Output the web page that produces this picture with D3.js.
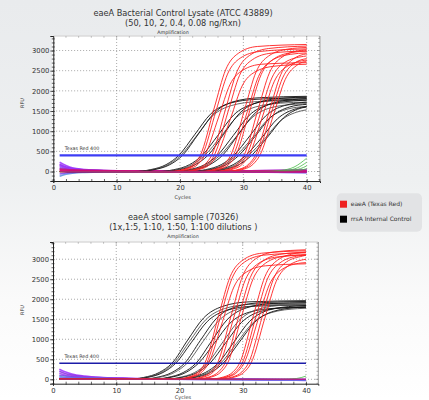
<!DOCTYPE html>
<html>
<head>
<meta charset="utf-8">
<script src="https://cdn.jsdelivr.net/npm/d3@7"></script>
<style>
  body { margin: 0; }
  svg text { font-family: "DejaVu Sans", sans-serif; fill: #333; }
</style>
</head>
<body>
<div id="chart"></div>
<script>
// ---- data: [cycle, RFU] points ----

// top panel: bacterial control lysate
const topRed = [
  [[1,0],[18.2,0],[20.7,60],[22.2,190],[23.2,400],[25.4,1575],[27.2,2520],[29.2,2930],[32.2,3100],[40,3150]],
  [[1,0],[18.5,0],[21,60],[22.5,190],[23.5,400],[25.7,1510],[27.5,2415],[29.5,2810],[32.5,2975],[40,3040]],
  [[1,0],[18.9,0],[21.4,60],[22.9,190],[23.9,400],[26.1,1350],[27.9,2160],[29.9,2510],[32.9,2660],[40,2700]],
  [[1,0],[20,0],[22.5,60],[24,190],[25,400],[27.2,1550],[29,2480],[31,2880],[34,3050],[40,3110]],
  [[1,0],[20.4,0],[22.9,60],[24.4,190],[25.4,400],[27.6,1490],[29.4,2385],[31.4,2770],[34.4,2935],[40,2990]],
  [[1,0],[20.8,0],[23.3,60],[24.8,190],[25.8,400],[28,1325],[29.8,2120],[31.8,2465],[34.8,2610],[40,2660]],
  [[1,0],[23,0],[25.5,60],[27,190],[28,400],[30.2,1540],[32,2465],[34,2865],[37,3035],[40,3075]],
  [[1,0],[23.4,0],[25.9,60],[27.4,190],[28.4,400],[30.6,1475],[32.4,2360],[34.4,2745],[37.4,2905],[40,2940]],
  [[1,0],[23.8,0],[26.3,60],[27.8,190],[28.8,400],[31,1500],[32.8,2400],[34.8,2790],[37.8,2955],[40,2985]],
  [[1,0],[25.1,0],[27.6,60],[29.1,190],[30.1,400],[32.3,1525],[34.1,2440],[36.1,2835],[39.1,3005],[40,3020]],
  [[1,0],[25.5,0],[28,60],[29.5,190],[30.5,400],[32.7,1450],[34.5,2320],[36.5,2700],[39.5,2855],[40,2865]],
  [[1,0],[25.9,0],[28.4,60],[29.9,190],[30.9,400],[33.1,1400],[34.9,2240],[36.9,2605],[40,2765]],
  [[1,0],[26.9,0],[29.4,60],[30.9,190],[31.9,400],[34.1,1500],[35.9,2400],[37.9,2790],[40,2920]],
  [[1,0],[27.2,0],[29.7,60],[31.2,190],[32.2,400],[34.4,1450],[36.2,2320],[38.2,2700],[40,2800]],
  [[1,0],[27.6,0],[30.1,60],[31.6,190],[32.6,400],[34.8,1425],[36.6,2280],[38.6,2650],[40,2740]]
];
const topBlack = [
  [[1,0],[12.8,0],[15.3,45],[17.8,170],[19.8,400],[22.3,910],[24.8,1420],[27.8,1690],[32,1790],[40,1830]],
  [[1,0],[13.1,0],[15.6,45],[18.1,170],[20.1,400],[22.6,880],[25.1,1375],[28.1,1635],[32.3,1735],[40,1770]],
  [[1,0],[13.4,0],[15.9,45],[18.4,170],[20.4,400],[22.9,930],[25.4,1450],[28.4,1730],[32.6,1830],[40,1865]],
  [[1,0],[16.5,0],[19,45],[21.5,170],[23.5,400],[26,900],[28.5,1405],[31.5,1675],[35.5,1775],[40,1800]],
  [[1,0],[16.9,0],[19.4,45],[21.9,170],[23.9,400],[26.4,860],[28.9,1340],[31.9,1600],[35.9,1695],[40,1720]],
  [[1,0],[17.4,0],[19.9,45],[22.4,170],[24.4,400],[26.9,925],[29.4,1445],[32.4,1720],[36.4,1820],[40,1845]],
  [[1,0],[18.9,0],[21.4,45],[23.9,170],[25.9,400],[28.4,890],[30.9,1390],[33.9,1655],[37.9,1750],[40,1768]],
  [[1,0],[19.3,0],[21.8,45],[24.3,170],[26.3,400],[28.8,850],[31.3,1325],[34.3,1580],[38.3,1670],[40,1685]],
  [[1,0],[19.7,0],[22.2,45],[24.7,170],[26.7,400],[29.2,915],[31.7,1425],[34.7,1700],[38.7,1795],[40,1808]],
  [[1,0],[21.5,0],[24,45],[26.5,170],[28.5,400],[31,880],[33.5,1375],[36.5,1635],[40,1720]],
  [[1,0],[21.9,0],[24.4,45],[26.9,170],[28.9,400],[31.4,830],[33.9,1295],[36.9,1545],[40,1615]],
  [[1,0],[22.3,0],[24.8,45],[27.3,170],[29.3,400],[31.8,860],[34.3,1340],[37.3,1600],[40,1665]],
  [[1,0],[23.4,0],[25.9,45],[28.4,170],[30.4,400],[32.9,840],[35.4,1310],[38.4,1560],[40,1610]],
  [[1,0],[23.8,0],[26.3,45],[28.8,170],[30.8,400],[33.3,800],[35.8,1250],[38.8,1490],[40,1530]],
  [[1,0],[24.3,0],[26.8,45],[29.3,170],[31.3,400],[33.8,850],[36.3,1325],[39.3,1580],[40,1600]]
];
const topGreen = [
  [[1,0],[33,0],[36,30],[38,110],[40,330]],
  [[1,0],[34,0],[37,30],[38.5,90],[40,230]],
  [[1,0],[35,0],[37.5,25],[39,70],[40,140]],
  [[1,0],[36,0],[38.5,20],[40,70]]
];
const topNoise = [
  [[1,230],[2,150],[3,90],[5,50],[8,25],[15,10],[25,0],[35,-10],[40,10]],
  [[1,180],[2,110],[3,70],[5,40],[8,20],[15,5],[25,-5],[35,0],[40,20]],
  [[1,130],[2,80],[4,40],[8,15],[15,5],[30,0],[40,-10]],
  [[1,90],[2,60],[4,30],[8,10],[20,0],[40,0]],
  [[1,-120],[2,-70],[3,-40],[5,-20],[8,-10],[20,0],[40,-20]],
  [[1,-60],[2,-35],[4,-15],[8,-5],[20,0],[40,-30]],
  [[1,50],[3,30],[6,15],[15,5],[30,0],[40,30]],
  [[1,160],[2,100],[4,55],[7,30],[12,15],[25,5],[40,40]],
  [[1,60],[3,40],[10,20],[25,10],[40,30]],
  [[1,20],[5,10],[20,-5],[40,-10]]
];

// bottom panel: stool sample dilutions
const botRed = [
  [[1,0],[19,0],[21.5,60],[23,190],[24,400],[26.2,1600],[28,2560],[30,2975],[33,3150],[40,3210]],
  [[1,0],[19.3,0],[21.8,60],[23.3,190],[24.3,400],[26.5,1575],[28.3,2520],[30.3,2930],[33.3,3100],[40,3160]],
  [[1,0],[19.6,0],[22.1,60],[23.6,190],[24.6,400],[26.8,1440],[28.6,2305],[30.6,2680],[33.6,2835],[40,2885]],
  [[1,0],[21,0],[23.5,60],[25,190],[26,400],[28.2,1615],[30,2585],[32,3005],[35,3180],[40,3235]],
  [[1,0],[21.4,0],[23.9,60],[25.4,190],[26.4,400],[28.6,1550],[30.4,2480],[32.4,2885],[35.4,3055],[40,3105]],
  [[1,0],[22.2,0],[24.7,60],[26.2,190],[27.2,400],[29.4,1590],[31.2,2545],[33.2,2955],[36.2,3130],[40,3175]],
  [[1,0],[22.6,0],[25.1,60],[26.6,190],[27.6,400],[29.8,1560],[31.6,2495],[33.6,2900],[36.6,3075],[40,3115]],
  [[1,0],[24.5,0],[27,60],[28.5,190],[29.5,400],[31.7,1600],[33.5,2560],[35.5,2975],[38.5,3150],[40,3175]],
  [[1,0],[24.9,0],[27.4,60],[28.9,190],[29.9,400],[32.1,1565],[33.9,2505],[35.9,2910],[38.9,3085],[40,3100]],
  [[1,0],[25.2,0],[27.7,60],[29.2,190],[30.2,400],[32.4,1475],[34.2,2360],[36.2,2745],[39.2,2905],[40,2915]],
  [[1,0],[25.9,0],[28.4,60],[29.9,190],[30.9,400],[33.1,1575],[34.9,2520],[36.9,2930],[39.5,3080],[40,3100]],
  [[1,0],[26.3,0],[28.8,60],[30.3,190],[31.3,400],[33.5,1530],[35.3,2450],[37.3,2845],[40,3000]]
];
const botBlack = [
  [[1,0],[11.8,0],[14.3,45],[16.8,170],[18.8,400],[21.3,980],[23.8,1530],[26.8,1820],[31,1935],[40,1965]],
  [[1,0],[12.1,0],[14.6,45],[17.1,170],[19.1,400],[21.6,950],[24.1,1480],[27.1,1765],[31.3,1875],[40,1905]],
  [[1,0],[12.4,0],[14.9,45],[17.4,170],[19.4,400],[21.9,925],[24.4,1445],[27.4,1720],[31.6,1825],[40,1855]],
  [[1,0],[13.8,0],[16.3,45],[18.8,170],[20.8,400],[23.3,970],[25.8,1515],[28.8,1805],[33,1915],[40,1945]],
  [[1,0],[14.2,0],[16.7,45],[19.2,170],[21.2,400],[23.7,940],[26.2,1465],[29.2,1750],[33.4,1855],[40,1880]],
  [[1,0],[15.6,0],[18.1,45],[20.6,170],[22.6,400],[25.1,960],[27.6,1500],[30.6,1785],[34.8,1895],[40,1915]],
  [[1,0],[16,0],[18.5,45],[21,170],[23,400],[25.5,900],[28,1405],[31,1675],[35.2,1775],[40,1795]],
  [[1,0],[17.4,0],[19.9,45],[22.4,170],[24.4,400],[26.9,940],[29.4,1465],[32.4,1750],[36.6,1855],[40,1875]],
  [[1,0],[17.8,0],[20.3,45],[22.8,170],[24.8,400],[27.3,910],[29.8,1420],[32.8,1695],[37,1795],[40,1810]],
  [[1,0],[19.1,0],[21.6,45],[24.1,170],[26.1,400],[28.6,930],[31.1,1450],[34.1,1730],[38.3,1830],[40,1845]],
  [[1,0],[19.5,0],[22,45],[24.5,170],[26.5,400],[29,895],[31.5,1395],[34.5,1665],[38.7,1765],[40,1775]],
  [[1,0],[19.9,0],[22.4,45],[24.9,170],[26.9,400],[29.4,915],[31.9,1425],[34.9,1700],[39.1,1800],[40,1808]]
];
const botGreen = [
  [[1,0],[36,0],[38.5,20],[40,80]]
];
const botNoise = [
  [[1,250],[2,180],[3,130],[5,80],[8,45],[12,25],[20,5],[30,0],[40,-20]],
  [[1,200],[2,140],[4,80],[7,45],[12,20],[20,5],[40,-10]],
  [[1,150],[2,100],[4,60],[8,30],[15,10],[30,0],[40,-30]],
  [[1,100],[3,60],[6,35],[10,20],[20,5],[40,0]],
  [[1,70],[3,40],[8,20],[20,0],[40,-20]],
  [[1,30],[10,10],[25,-5],[40,-10]]
];

const yMajor = [0, 500, 1000, 1500, 2000, 2500, 3000];
const xMajor = [0, 10, 20, 30, 40];
const threshold = 400;
const thresholdLabel = "Texas Red 400";
const legendLabels = ["eaeA (Texas Red)", "rrsA Internal Control"];

// ---- layout ----
const W = 429, H = 400;
const svg = d3.select("#chart").append("svg")
  .attr("width", W)
  .attr("height", H);

let defs = svg.append("defs");
let grad = defs.append("linearGradient")
  .attr("id", "bg").attr("x1", 0).attr("y1", 0).attr("x2", 0).attr("y2", 1);
grad.append("stop").attr("offset", "0").attr("stop-color", "#e9ebed");
grad.append("stop").attr("offset", "0.45").attr("stop-color", "#eef0f1");
grad.append("stop").attr("offset", "0.75").attr("stop-color", "#fafafa");
grad.append("stop").attr("offset", "1").attr("stop-color", "#ffffff");
svg.append("rect").attr("width", W).attr("height", H).attr("fill", "url(#bg)");

const noiseColors = ["#9b30ff", "#8a2be2", "#a040f0", "#7b3fe4", "#5b8fdc", "#7744ee", "#b030d0", "#9933ff", "#cc1177", "#dd0066"];

function drawPanel(p) {
  let x = d3.scaleLinear().domain(p.xDomain).range(p.xRange),
      y = d3.scaleLinear().domain(p.yDomain).range(p.yRange);
  let x0 = p.xRange[0], x1 = p.xRange[1], yb = p.yRange[0], yt = p.yRange[1];
  let g = svg.append("g");

  // titles
  g.append("text").attr("x", p.titleX).attr("y", p.titleY)
    .attr("text-anchor", "middle").style("font-size", "8.2px")
    .text(p.title1);
  g.append("text").attr("x", p.titleX).attr("y", p.titleY + 10)
    .attr("text-anchor", "middle").style("font-size", "8.2px")
    .text(p.title2);
  g.append("text").attr("x", p.subX).attr("y", p.subY)
    .attr("text-anchor", "middle").style("font-size", "4.8px")
    .text("Amplification");

  // plot background
  g.append("rect")
    .attr("x", x0 - 1).attr("y", yt - 0.5)
    .attr("width", x1 - x0 + 2).attr("height", yb - yt + 1)
    .attr("fill", "#fff");
  g.append("line").attr("x1", x0).attr("x2", x1).attr("y1", yt).attr("y2", yt)
    .attr("stroke", "#bbb").attr("stroke-width", 0.8);
  g.append("line").attr("x1", x1).attr("x2", x1).attr("y1", yt).attr("y2", yb)
    .attr("stroke", "#777").attr("stroke-width", 0.8);

  // grid
  g.append("g").selectAll("line")
    .data(yMajor)
    .join("line")
    .attr("x1", x0).attr("x2", x1)
    .attr("y1", (d) => y(d)).attr("y2", (d) => y(d))
    .attr("stroke", "#777").attr("stroke-width", 0.8)
    .attr("stroke-dasharray", "0.8,2.2");
  g.append("g").selectAll("line")
    .data(xMajor.filter((d) => d > 0))
    .join("line")
    .attr("x1", (d) => x(d)).attr("x2", (d) => x(d))
    .attr("y1", yt).attr("y2", yb)
    .attr("stroke", "#777").attr("stroke-width", 0.8)
    .attr("stroke-dasharray", "0.8,2.2");

  // minor ticks on the right and top edges
  let yMinor = d3.range(Math.ceil(p.yDomain[0] / 100) * 100, p.yDomain[1], 100);
  let xMinor = d3.range(0, p.xDomain[1], 2);
  g.append("g").selectAll("line")
    .data(yMinor)
    .join("line")
    .attr("x1", x1).attr("x2", (d) => x1 - (d % 500 === 0 ? 3 : 1.8))
    .attr("y1", (d) => y(d)).attr("y2", (d) => y(d))
    .attr("stroke", "#777").attr("stroke-width", 0.6);
  g.append("g").selectAll("line")
    .data(xMinor)
    .join("line")
    .attr("x1", (d) => x(d)).attr("x2", (d) => x(d))
    .attr("y1", yt).attr("y2", (d) => yt + (d % 10 === 0 ? 3 : 1.8))
    .attr("stroke", "#999").attr("stroke-width", 0.6);

  // curves
  let clipId = "clip" + p.id;
  defs.append("clipPath").attr("id", clipId)
    .append("rect").attr("x", x0).attr("y", yt).attr("width", x1 - x0).attr("height", yb - yt);
  let line = d3.line()
    .x((d) => x(d[0]))
    .y((d) => y(d[1]))
    .curve(d3.curveMonotoneX);
  let curves = g.append("g").attr("clip-path", `url(#${clipId})`);

  curves.append("g").selectAll("path")
    .data(p.noise)
    .join("path")
    .attr("d", line)
    .attr("fill", "none")
    .attr("stroke", (d, i) => noiseColors[i % noiseColors.length])
    .attr("stroke-width", 1.6)
    .attr("stroke-opacity", 0.85);
  curves.append("g").selectAll("path")
    .data(p.black)
    .join("path")
    .attr("d", line)
    .attr("fill", "none")
    .attr("stroke", (d, i) => (i % 3 === 1 ? "#555" : "#111"))
    .attr("stroke-width", 0.9);
  curves.append("g").selectAll("path")
    .data(p.red)
    .join("path")
    .attr("d", line)
    .attr("fill", "none")
    .attr("stroke", "#ff1f1f")
    .attr("stroke-width", 0.9);
  curves.append("g").selectAll("path")
    .data(p.green)
    .join("path")
    .attr("d", line)
    .attr("fill", "none")
    .attr("stroke", "#44bb44")
    .attr("stroke-width", 0.8);
  // magenta band around zero (overlapping baselines)
  curves.append("line")
    .attr("x1", x(1)).attr("x2", x(40))
    .attr("y1", y(0)).attr("y2", y(0))
    .attr("stroke", "#c0107a").attr("stroke-width", 1.6).attr("stroke-opacity", 0.8);

  // threshold
  g.append("line")
    .attr("x1", x(1)).attr("x2", x(40))
    .attr("y1", y(threshold)).attr("y2", y(threshold))
    .attr("stroke", p.threshColor).attr("stroke-width", p.threshWidth);
  g.append("text")
    .attr("x", x(1.8)).attr("y", y(threshold) - 5.5)
    .style("font-size", "4.8px")
    .text(thresholdLabel);

  // axes
  let yAxis = g.append("g")
    .attr("transform", `translate(${x0},0)`)
    .call(d3.axisLeft(y).tickValues(yMajor).tickSize(3).tickPadding(1).tickFormat(d3.format("d")));
  yAxis.selectAll("text").style("font-size", "6.8px").attr("fill", "#333");
  g.append("g")
    .attr("transform", `translate(${x0 + 1.5},0)`)
    .call(d3.axisLeft(y).tickValues(yMinor).tickSize(3).tickFormat(""))
    .call((a) => a.select(".domain").remove());
  let xAxis = g.append("g")
    .attr("transform", `translate(0,${yb})`)
    .call(d3.axisBottom(x).tickValues(xMajor).tickSize(2).tickPadding(2.5).tickFormat(d3.format("d")));
  xAxis.selectAll("text").style("font-size", "6.8px").attr("fill", "#333");
  g.append("g")
    .attr("transform", `translate(0,${yb - 2})`)
    .call(d3.axisBottom(x).tickValues(xMinor).tickSize(3).tickFormat(""))
    .call((a) => a.select(".domain").remove());
  g.selectAll(".domain").attr("stroke", "#222").attr("stroke-width", 1);
  g.selectAll(".tick line").attr("stroke", "#222").attr("stroke-width", 0.7);

  // axis titles
  g.append("text")
    .attr("transform", `translate(${p.rfuX},${p.rfuY}) rotate(-90)`)
    .attr("text-anchor", "middle")
    .style("font-size", "5px")
    .text("RFU");
  g.append("text")
    .attr("x", p.cyclesX).attr("y", p.cyclesY)
    .attr("text-anchor", "middle")
    .style("font-size", "5px")
    .text("Cycles");
}

drawPanel({
  id: "top",
  title1: "eaeA Bacterial Control Lysate (ATCC 43889)",
  title2: "(50, 10, 2, 0.4, 0.08 ng/Rxn)",
  titleX: 183, titleY: 15.5, subX: 173, subY: 34,
  xDomain: [0, 42.1], xRange: [53.3, 320],
  yDomain: [-235, 3360], yRange: [181, 36],
  red: topRed, black: topBlack, green: topGreen, noise: topNoise,
  threshColor: "#3d3df5", threshWidth: 2.2,
  rfuX: 24, rfuY: 103, cyclesX: 182.7, cyclesY: 199
});

drawPanel({
  id: "bot",
  title1: "eaeA stool sample (70326)",
  title2: "(1x,1:5, 1:10, 1:50, 1:100 dilutions )",
  titleX: 183.3, titleY: 219.5, subX: 183, subY: 237.8,
  xDomain: [0, 41.95], xRange: [53, 318.3],
  yDomain: [-110, 3430], yRange: [383.7, 242],
  red: botRed, black: botBlack, green: botGreen, noise: botNoise,
  threshColor: "#1c1ca8", threshWidth: 1.5,
  rfuX: 24, rfuY: 310, cyclesX: 183, cyclesY: 398.6
});

// legend
let legend = svg.append("g");
legend.append("rect")
  .attr("x", 336.7).attr("y", 193.3)
  .attr("width", 85.3).attr("height", 38.4)
  .attr("rx", 5)
  .attr("fill", "#e2e3e5");
legend.selectAll(".sw")
  .data(legendLabels)
  .join("rect")
  .attr("class", "sw")
  .attr("x", 340).attr("y", (d, i) => 200.7 + i * 15)
  .attr("width", 7).attr("height", 7)
  .attr("fill", (d, i) => (i === 0 ? "#ee2020" : "#000"));
legend.selectAll(".lb")
  .data(legendLabels)
  .join("text")
  .attr("class", "lb")
  .attr("x", 350.7).attr("y", (d, i) => 206.4 + i * 15)
  .style("font-size", "6px")
  .text((d) => d);
</script>
</body>
</html>
